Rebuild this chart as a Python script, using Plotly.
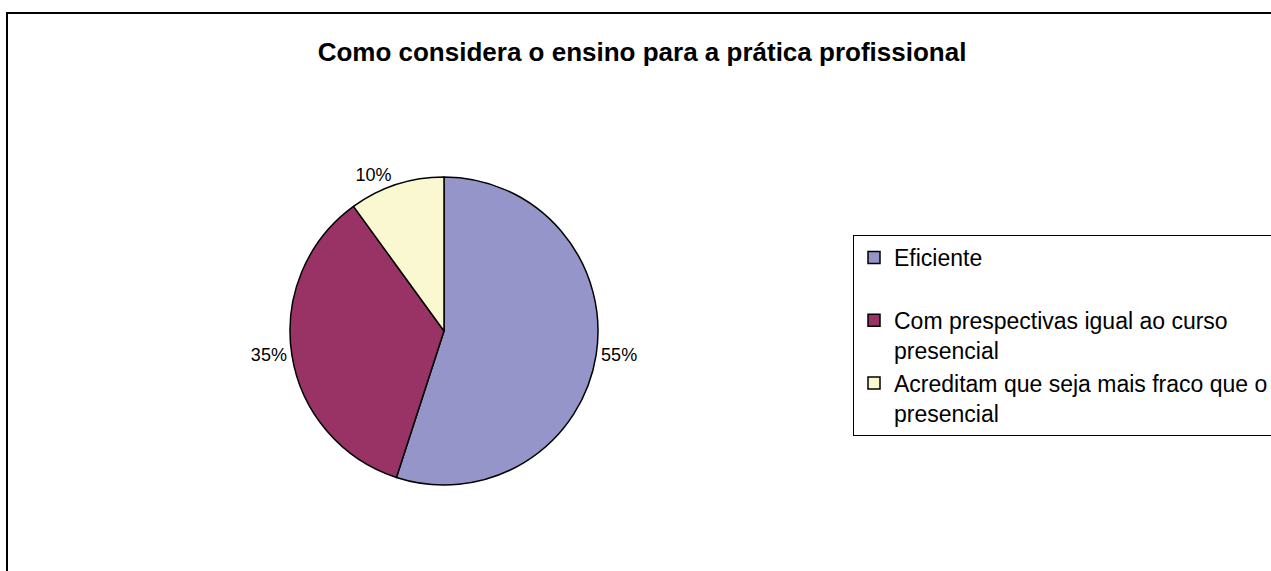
import plotly.graph_objects as go

# Data
categories = [
    "Eficiente<br>\u00a0",
    "Com prespectivas igual ao curso<br>presencial",
    "Acreditam que seja mais fraco que o<br>presencial",
]
values = [55, 35, 10]
colors = ["#9595C9", "#993366", "#FAF8D0"]
title_text = "Como considera o ensino para a prática profissional"

W, H = 1271, 571

def px_x(p):
    return p / W

def px_y(p):
    return 1 - p / H

fig = go.Figure()
fig.add_trace(go.Pie(
    labels=categories,
    values=values,
    sort=False,
    direction="clockwise",
    rotation=0,
    marker=dict(colors=colors, line=dict(color="black", width=1.5)),
    textinfo="percent",
    texttemplate="%{percent:.0%}",
    textposition="outside",
    outsidetextfont=dict(family="Liberation Sans, Arial", size=18, color="black"),
    domain=dict(x=[px_x(290), px_x(598)], y=[px_y(485), px_y(177)]),
    hoverinfo="label+percent",
))

fig.update_layout(
    width=W, height=H,
    margin=dict(l=0, r=0, t=0, b=0, autoexpand=False),
    paper_bgcolor="white",
    plot_bgcolor="white",
    font=dict(family="Liberation Sans, Arial", color="black"),
    title=dict(
        text="<b>" + title_text + "</b>",
        x=px_x(642), xanchor="center",
        y=px_y(52), yanchor="middle",
        font=dict(family="Liberation Sans, Arial", size=26, color="black"),
    ),
    showlegend=True,
    legend=dict(
        x=px_x(853), xanchor="left",
        y=px_y(235), yanchor="top",
        bordercolor="black", borderwidth=1,
        bgcolor="white",
        font=dict(family="Liberation Sans, Arial", size=23, color="black"),
        valign="top",
        tracegroupgap=0,
    ),
    shapes=[
        dict(type="rect", xref="paper", yref="paper",
             x0=px_x(7), x1=1.02, y0=-0.05, y1=px_y(13),
             line=dict(color="black", width=2), fillcolor="rgba(0,0,0,0)",
             layer="below"),
    ],
)

fig.write_html("out.html", config={"displayModeBar": False},
               post_script="document.body.style.margin='0px';")
